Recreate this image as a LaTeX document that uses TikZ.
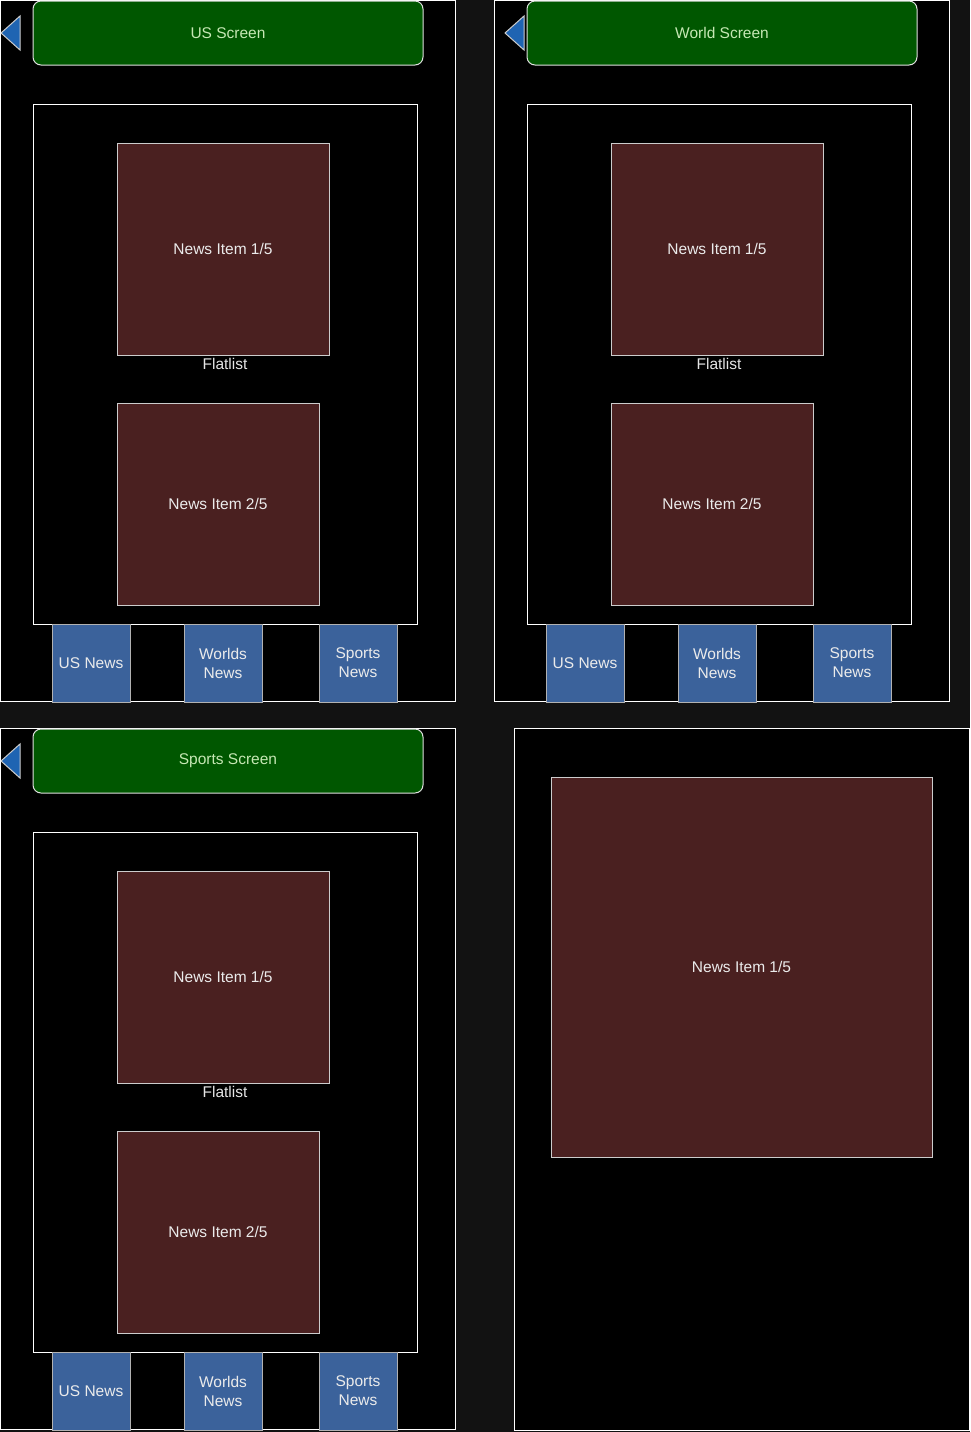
\documentclass[tikz,border=0pt]{standalone}
\usepackage{fontspec}
\setmainfont{Liberation Sans}
\usetikzlibrary{arrows.meta}
\usetikzlibrary{calc}

\definecolor{pagebg}{HTML}{121212}
\definecolor{headfill}{HTML}{005700}
\definecolor{headtext}{HTML}{C6E8B4}
\definecolor{itemfill}{HTML}{4A2020}
\definecolor{tabfill}{HTML}{3B629B}
\definecolor{backfill}{HTML}{1F64B2}

\begin{document}
\begin{tikzpicture}[x=1pt,y=-1pt,
    font=\fontsize{15.5}{19}\selectfont,
    box/.style={rectangle,inner sep=0pt,outer sep=0pt,line width=1pt},
    screen/.style={box,draw=white,fill=black},
    header/.style={box,draw=white!88!black,fill=headfill,text=headtext,rounded corners=8pt,
        minimum width=390pt,minimum height=64pt},
    listbox/.style={box,draw=white,fill=black,text=white!90!black,
        minimum width=384pt,minimum height=520pt},
    item/.style={box,draw=white!80!black,fill=itemfill,text=white!92!black},
    tab/.style={box,draw=white!70!black,fill=tabfill,text=white!92!black,align=center,
        minimum width=78pt,minimum height=78pt},
    back/.style={line width=1pt,draw=white!80!black,fill=backfill,line join=miter}]
    \fill[pagebg] (0,0) rectangle (970,1432);
    \useasboundingbox (0,0) rectangle (970,1432);

    % three tab screens
    \foreach \s/\dx/\dy/\tx/\title in {us/0/0/0/US, world/494/0/504/World, sports/0/728/0/Sports}{
        \node[screen,minimum width=455pt,minimum height=701pt] (\s-screen) at ({228+\dx},{351+\dy}) {};
        \node[listbox] (\s-list) at ({225+\dx},{364+\dy}) {Flatlist};
        \node[item,minimum width=212pt,minimum height=212pt] (\s-item1) at ({223+\dx},{249+\dy}) {News Item 1/5};
        \node[item,minimum width=202pt,minimum height=202pt] (\s-item2) at ({218+\dx},{504+\dy}) {News Item 2/5};
        \node[tab] (\s-tabus) at ({91+\dx},{663+\dy}) {US News};
        \node[tab] (\s-tabworld) at ({223+\dx},{663+\dy}) {Worlds\\News};
        \node[tab] (\s-tabsports) at ({358+\dx},{663+\dy}) {Sports\\News};
        \node[header] (\s-head) at ({228+\dx},{33+\dy}) {\title{} Screen};
        \draw[back] ({1+\tx},{33+\dy}) -- ({20+\tx},{16+\dy}) -- ({20+\tx},{50+\dy}) -- cycle;
    }

    % detail screen
    \node[screen,minimum width=455pt,minimum height=702pt] (detail-screen) at (741.5,1079) {};
    \node[item,minimum width=381pt,minimum height=380pt] (detail-item) at (741.5,967) {News Item 1/5};
\end{tikzpicture}
\end{document}
